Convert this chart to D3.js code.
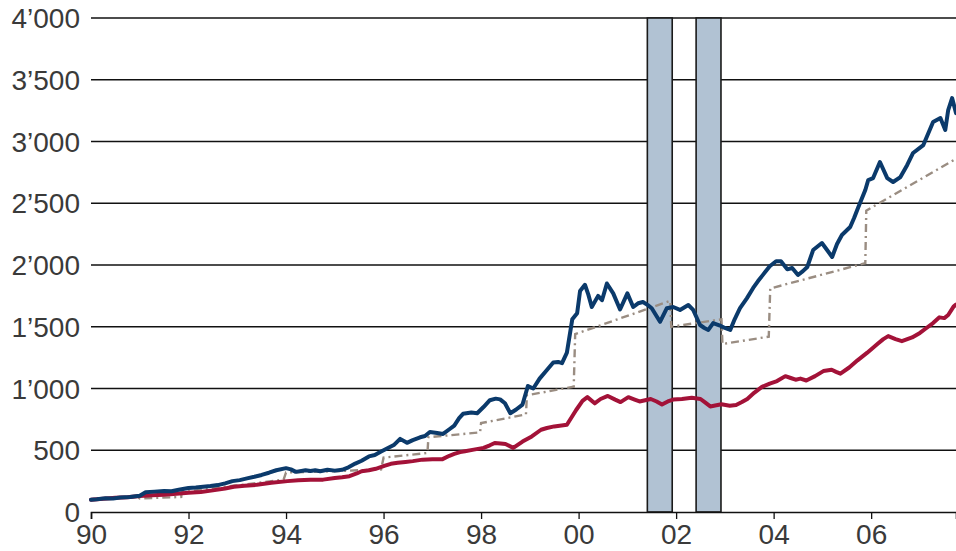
<!DOCTYPE html>
<html>
<head>
<meta charset="utf-8">
<script src="https://cdn.jsdelivr.net/npm/d3@7"></script>
<style>
  html, body { margin: 0; padding: 0; background: #fff; }
  svg { display: block; }
  text { font-family: "Liberation Sans", Arial, Helvetica, sans-serif; }
</style>
</head>
<body>
<svg id="chart" width="956" height="551"></svg>
<script>
// ---- data (decimal year, value) ----
const yTicks = [0, 500, 1000, 1500, 2000, 2500, 3000, 3500, 4000];
const xTicks = [1990, 1992, 1994, 1996, 1998, 2000, 2002, 2004, 2006];
const xTickLabels = ["90", "92", "94", "96", "98", "00", "02", "04", "06"];
const shadedPeriods = [[2001.41, 2001.92], [2002.41, 2002.92]];

const seriesBlue = [
  [1990.00,100],[1990.12,104],[1990.3,112],[1990.45,110],[1990.6,118],[1990.8,122],[1991.0,132],
  [1991.12,160],[1991.3,165],[1991.5,170],[1991.65,168],[1991.8,180],[1992.0,195],[1992.15,198],
  [1992.3,205],[1992.45,210],[1992.6,218],[1992.75,232],[1992.9,250],[1993.05,258],[1993.2,272],
  [1993.35,285],[1993.5,300],[1993.65,318],[1993.8,338],[1994.0,355],[1994.1,345],[1994.2,325],
  [1994.4,338],[1994.5,332],[1994.6,338],[1994.7,330],[1994.85,342],[1995.0,335],[1995.15,342],
  [1995.28,362],[1995.42,392],[1995.55,415],[1995.7,450],[1995.82,462],[1995.95,490],[1996.1,520],
  [1996.22,545],[1996.34,592],[1996.48,560],[1996.6,582],[1996.75,605],[1996.85,615],[1996.95,648],
  [1997.1,640],[1997.22,632],[1997.35,670],[1997.45,700],[1997.55,760],[1997.63,795],[1997.8,805],
  [1997.92,800],[1998.05,850],[1998.18,905],[1998.3,918],[1998.39,912],[1998.49,880],[1998.6,800],
  [1998.72,830],[1998.85,870],[1998.96,1020],[1999.07,1000],[1999.2,1080],[1999.35,1150],
  [1999.48,1210],[1999.58,1215],[1999.66,1205],[1999.76,1290],[1999.87,1560],[1999.97,1610],
  [2000.03,1790],[2000.13,1840],[2000.2,1760],[2000.27,1660],[2000.4,1750],[2000.48,1715],
  [2000.58,1850],[2000.71,1770],[2000.85,1640],[2001.0,1770],[2001.12,1660],[2001.22,1690],
  [2001.32,1700],[2001.42,1675],[2001.5,1650],[2001.67,1540],[2001.81,1650],[2001.94,1660],
  [2002.08,1636],[2002.25,1676],[2002.35,1636],[2002.49,1514],[2002.58,1490],[2002.66,1474],
  [2002.76,1530],[2002.9,1510],[2003.0,1490],[2003.11,1474],[2003.2,1560],[2003.31,1650],
  [2003.45,1730],[2003.58,1814],[2003.68,1870],[2003.78,1920],[2003.92,1990],[2004.05,2030],
  [2004.15,2030],[2004.28,1965],[2004.38,1976],[2004.5,1919],[2004.6,1950],[2004.69,1984],
  [2004.81,2121],[2004.99,2178],[2005.2,2065],[2005.3,2170],[2005.4,2243],[2005.57,2308],
  [2005.65,2380],[2005.73,2461],[2005.88,2607],[2005.94,2688],[2006.04,2704],[2006.18,2834],
  [2006.33,2704],[2006.45,2672],[2006.6,2712],[2006.74,2810],[2006.86,2907],[2007.07,2971],
  [2007.27,3158],[2007.42,3190],[2007.52,3093],[2007.58,3255],[2007.66,3352],[2007.74,3230]
];

const seriesRed = [
  [1990.0,100],[1990.25,108],[1990.5,115],[1990.75,120],[1991.0,130],[1991.25,136],[1991.5,140],
  [1991.75,148],[1992.0,155],[1992.25,162],[1992.5,175],[1992.75,190],[1992.93,205],[1993.15,212],
  [1993.4,220],[1993.7,236],[1994.03,250],[1994.25,258],[1994.5,262],[1994.76,262],[1995.0,276],
  [1995.15,282],[1995.3,290],[1995.45,312],[1995.55,330],[1995.7,338],[1995.84,350],[1996.03,375],
  [1996.15,390],[1996.29,398],[1996.45,405],[1996.6,412],[1996.8,424],[1997.0,428],[1997.21,428],
  [1997.35,455],[1997.45,470],[1997.57,485],[1997.67,492],[1997.85,505],[1998.05,519],[1998.18,540],
  [1998.28,559],[1998.4,555],[1998.5,551],[1998.66,519],[1998.85,570],[1999.04,612],[1999.23,666],
  [1999.35,680],[1999.5,693],[1999.65,700],[1999.76,706],[1999.95,826],[2000.08,900],[2000.18,930],
  [2000.33,880],[2000.45,915],[2000.6,940],[2000.75,910],[2000.86,890],[2001.02,930],[2001.15,910],
  [2001.25,895],[2001.48,915],[2001.6,895],[2001.71,870],[2001.83,895],[2001.94,910],[2002.12,915],
  [2002.32,925],[2002.5,915],[2002.6,885],[2002.7,855],[2002.8,862],[2002.93,872],[2003.1,860],
  [2003.23,866],[2003.35,890],[2003.46,915],[2003.6,965],[2003.76,1013],[2003.92,1040],[2004.07,1060],
  [2004.24,1100],[2004.35,1085],[2004.45,1071],[2004.55,1080],[2004.67,1065],[2004.85,1100],
  [2005.02,1141],[2005.19,1152],[2005.28,1135],[2005.37,1120],[2005.55,1170],[2005.72,1228],
  [2005.92,1290],[2006.14,1364],[2006.25,1400],[2006.35,1424],[2006.5,1400],[2006.63,1383],
  [2006.84,1413],[2007.0,1450],[2007.12,1486],[2007.27,1530],[2007.4,1576],[2007.5,1570],
  [2007.58,1595],[2007.69,1663],[2007.74,1680]
];

const seriesGrey = [
  [1990.0,100],[1990.95,125],[1991.0,110],[1991.85,122],[1991.86,160],[1992.95,215],[1993.0,215],
  [1993.95,262],[1994.0,320],[1995.0,330],[1995.95,345],[1996.0,440],[1996.9,478],[1996.92,605],
  [1997.98,645],[1998.0,720],[1998.92,790],[1998.94,945],[1999.9,1015],[1999.93,1440],
  [2001.88,1710],[2001.9,1500],[2002.93,1560],[2002.95,1360],[2003.9,1420],[2003.93,1810],
  [2005.88,2015],[2005.9,2440],[2007.74,2860]
];

// ---- layout ----
const svg = d3.select("#chart");
const x = d3.scaleLinear().domain([1990, 2007.74]).range([91, 956]);
const y = d3.scaleLinear().domain([0, 4000]).range([512, 18]);
const fmt = v => {
  const s = String(v);
  return v >= 1000 ? s.slice(0, s.length - 3) + "\u2019" + s.slice(-3) : s;
};

// gridlines
svg.append("g")
  .selectAll("line")
  .data(yTicks.filter(d => d > 0))
  .join("line")
  .attr("x1", x.range()[0]).attr("x2", x.range()[1])
  .attr("y1", d => y(d)).attr("y2", d => y(d))
  .attr("stroke", "#111").attr("stroke-width", 1.3);

// y labels
svg.append("g")
  .selectAll("text")
  .data(yTicks)
  .join("text")
  .attr("x", 80)
  .attr("y", d => y(d))
  .attr("dy", "0.36em")
  .attr("text-anchor", "end")
  .attr("font-size", 28)
  .attr("fill", "#3a3a3a")
  .text(fmt);

// shaded periods
svg.append("g")
  .selectAll("rect")
  .data(shadedPeriods)
  .join("rect")
  .attr("x", d => x(d[0]))
  .attr("width", d => x(d[1]) - x(d[0]))
  .attr("y", y(4000))
  .attr("height", y(0) - y(4000))
  .attr("fill", "#b1c2d3")
  .attr("stroke", "#1a1a1a")
  .attr("stroke-width", 1.6);

// x axis
const xAxis = d3.axisBottom(x)
  .tickValues(xTicks)
  .tickSize(7)
  .tickPadding(5)
  .tickFormat((d, i) => xTickLabels[i]);
const gx = svg.append("g").attr("transform", `translate(0,${y(0)})`).call(xAxis);
gx.select(".domain").attr("stroke", "#111").attr("stroke-width", 1.6);
gx.selectAll(".tick line").attr("stroke", "#111").attr("stroke-width", 1.3);
gx.selectAll(".tick text")
  .attr("font-size", 28)
  .attr("font-family", "Liberation Sans, Arial, sans-serif")
  .attr("fill", "#3a3a3a");

// lines
const line = d3.line().x(d => x(d[0])).y(d => y(d[1])).curve(d3.curveLinear);

svg.append("path")
  .datum(seriesGrey)
  .attr("d", line)
  .attr("fill", "none")
  .attr("stroke", "#9a8d82")
  .attr("stroke-width", 2.4)
  .attr("stroke-dasharray", "8,4,2,4");

svg.append("path")
  .datum(seriesRed)
  .attr("d", line)
  .attr("fill", "none")
  .attr("stroke", "#a31238")
  .attr("stroke-width", 4)
  .attr("stroke-linejoin", "round")
  .attr("stroke-linecap", "round");

svg.append("path")
  .datum(seriesBlue)
  .attr("d", line)
  .attr("fill", "none")
  .attr("stroke", "#0b3a6b")
  .attr("stroke-width", 4)
  .attr("stroke-linejoin", "round")
  .attr("stroke-linecap", "round");
</script>
</body>
</html>
